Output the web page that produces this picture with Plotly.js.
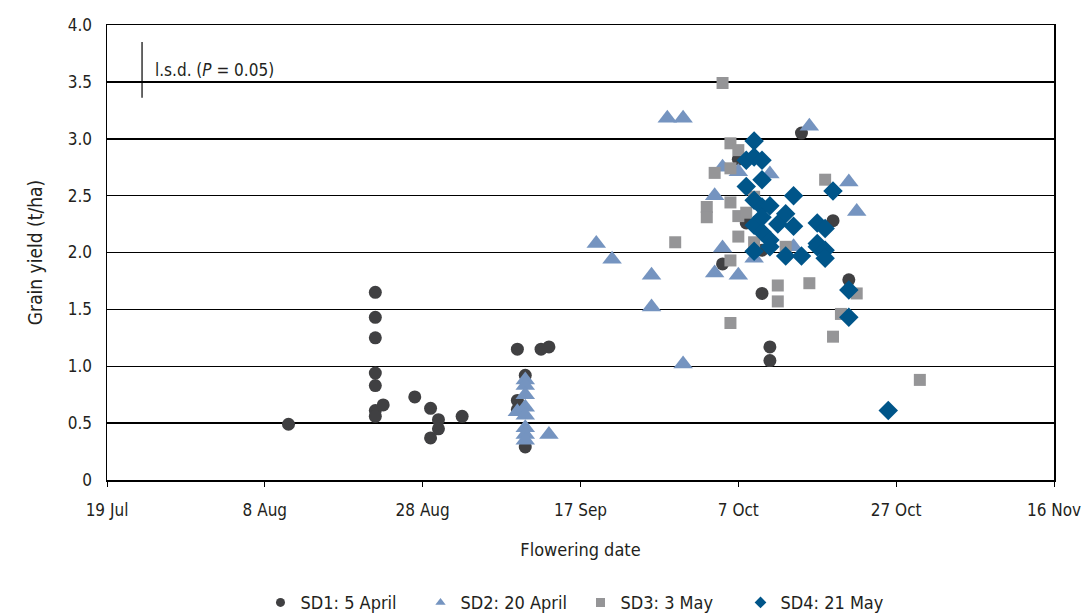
<!DOCTYPE html>
<html>
<head>
<meta charset="utf-8">
<script src="https://cdn.plot.ly/plotly-3.0.1.min.js"></script>
<style>
  html, body { margin: 0; padding: 0; background: #fff; }
  #chart { width: 1082px; height: 615px; }
</style>
</head>
<body>
<div id="chart"></div>
<script>
// Grain yield (t/ha) against flowering date for four sowing dates (SD1–SD4)

const sd1Dates = [
  '2015-08-11',
  '2015-08-22', '2015-08-22', '2015-08-22', '2015-08-22', '2015-08-22', '2015-08-22', '2015-08-22',
  '2015-08-23', '2015-08-27', '2015-08-29', '2015-08-29', '2015-08-30', '2015-08-30', '2015-09-02',
  '2015-09-09', '2015-09-09', '2015-09-09', '2015-09-10', '2015-09-10', '2015-09-12', '2015-09-13',
  '2015-10-05', '2015-10-07', '2015-10-08', '2015-10-10', '2015-10-10', '2015-10-11', '2015-10-11',
  '2015-10-15', '2015-10-19', '2015-10-21'
];
const sd1Yield = [
  0.49,
  1.65, 1.43, 1.25, 0.94, 0.83, 0.61, 0.56,
  0.66, 0.73, 0.63, 0.37, 0.53, 0.45, 0.56,
  1.15, 0.70, 0.62, 0.92, 0.29, 1.15, 1.17,
  1.90, 2.82, 2.26, 2.02, 1.64, 1.17, 1.05,
  3.05, 2.28, 1.76
];

const sd2Dates = [
  '2015-09-09',
  '2015-09-10', '2015-09-10', '2015-09-10', '2015-09-10', '2015-09-10', '2015-09-10', '2015-09-10', '2015-09-10',
  '2015-09-13', '2015-09-19', '2015-09-21', '2015-09-26', '2015-09-26', '2015-09-28', '2015-09-30', '2015-09-30',
  '2015-10-04', '2015-10-04', '2015-10-05', '2015-10-05', '2015-10-07', '2015-10-07', '2015-10-09',
  '2015-10-11', '2015-10-14', '2015-10-16', '2015-10-21', '2015-10-22'
];
const sd2Yield = [
  0.60,
  0.88, 0.83, 0.75, 0.64, 0.57, 0.46, 0.40, 0.35,
  0.40, 2.08, 1.94, 1.80, 1.52, 3.18, 3.18, 1.02,
  2.50, 1.82, 2.75, 2.04, 2.71, 1.80, 1.95,
  2.69, 2.05, 3.11, 2.62, 2.36
];

const sd3Dates = [
  '2015-09-29', '2015-10-03', '2015-10-03', '2015-10-04', '2015-10-05',
  '2015-10-06', '2015-10-06', '2015-10-06', '2015-10-06', '2015-10-06',
  '2015-10-07', '2015-10-07', '2015-10-07', '2015-10-08', '2015-10-09', '2015-10-09',
  '2015-10-12', '2015-10-12', '2015-10-13', '2015-10-16', '2015-10-18', '2015-10-19',
  '2015-10-20', '2015-10-22', '2015-10-30'
];
const sd3Yield = [
  2.09, 2.40, 2.31, 2.70, 3.49,
  2.96, 2.74, 2.44, 1.93, 1.38,
  2.90, 2.32, 2.14, 2.35, 2.49, 2.09,
  1.71, 1.57, 2.05, 1.73, 2.64, 1.26,
  1.46, 1.64, 0.88
];

const sd4Dates = [
  '2015-10-08', '2015-10-08',
  '2015-10-09', '2015-10-09', '2015-10-09', '2015-10-09', '2015-10-09',
  '2015-10-10', '2015-10-10', '2015-10-10', '2015-10-10', '2015-10-10',
  '2015-10-11', '2015-10-11', '2015-10-11', '2015-10-12', '2015-10-13', '2015-10-13',
  '2015-10-14', '2015-10-14', '2015-10-15', '2015-10-17', '2015-10-17', '2015-10-17',
  '2015-10-18', '2015-10-18', '2015-10-18', '2015-10-19', '2015-10-21', '2015-10-21', '2015-10-26'
];
const sd4Yield = [
  2.81, 2.58,
  2.98, 2.84, 2.46, 2.24, 2.01,
  2.81, 2.64, 2.40, 2.31, 2.18,
  2.41, 2.11, 2.05, 2.25, 2.34, 1.97,
  2.50, 2.23, 1.97, 2.26, 2.08, 2.05,
  2.21, 2.02, 1.95, 2.54, 1.67, 1.43, 0.61
];

const seriesNames = ['SD1: 5 April', 'SD2: 20 April', 'SD3: 3 May', 'SD4: 21 May'];

const yTickVals = [0, 0.5, 1, 1.5, 2, 2.5, 3, 3.5, 4];
const yTickText = ['0', '0.5', '1.0', '1.5', '2.0', '2.5', '3.0', '3.5', '4.0'];

// least significant difference bar (t/ha)
const LSD = 0.49;
const LSD_TOP = 3.85;

const FONT = '"DejaVu Sans Condensed", "DejaVu Sans", sans-serif';

const styles = [
  { symbol: 'circle', color: '#404042', size: 13 },
  { symbol: 'triangle-up', color: '#7594c0', size: 17 },
  { symbol: 'square', color: '#959597', size: 12 },
  { symbol: 'diamond', color: '#005589', size: 15 }
];

const xs = [sd1Dates, sd2Dates, sd3Dates, sd4Dates];
const ys = [sd1Yield, sd2Yield, sd3Yield, sd4Yield];

const traces = [];
xs.forEach((x, i) => {
  traces.push({
    type: 'scatter', mode: 'markers',
    x: x, y: ys[i], name: seriesNames[i],
    showlegend: false, cliponaxis: false,
    marker: { symbol: styles[i].symbol, color: styles[i].color, size: styles[i].size, line: { width: 0 } }
  });
});
// compact legend keys
seriesNames.forEach((n, i) => {
  traces.push({
    type: 'scatter', mode: 'markers',
    x: [null], y: [null], name: n, showlegend: true,
    marker: { symbol: styles[i].symbol, color: styles[i].color, size: 9, line: { width: 0 } }
  });
});

const layout = {
  width: 1082, height: 615,
  margin: { l: 107, r: 28, t: 25, b: 135, autoexpand: false },
  paper_bgcolor: '#ffffff', plot_bgcolor: '#ffffff',
  font: { family: FONT, size: 17, color: '#231f20' },
  xaxis: {
    type: 'date',
    range: ['2015-07-19', '2015-11-16'],
    tick0: '2015-07-19', dtick: 20 * 86400000,
    tickformat: '%-d %b',
    showgrid: false, zeroline: false,
    showline: true, linecolor: '#000', linewidth: 1.5, mirror: true,
    ticks: 'outside', ticklen: 5, tickcolor: '#000', tickwidth: 1,
    ticklabelstandoff: 9,
    tickfont: { family: FONT, size: 17, color: '#231f20' },
    title: { text: 'Flowering date', font: { family: FONT, size: 18, color: '#231f20' }, standoff: 24 }
  },
  yaxis: {
    range: [0, 4],
    tickvals: yTickVals, ticktext: yTickText,
    showgrid: true, gridcolor: '#000', gridwidth: 1.5,
    zeroline: false,
    showline: true, linecolor: '#000', linewidth: 1.5, mirror: true,
    ticks: '', ticklabelstandoff: 10,
    tickfont: { family: FONT, size: 17, color: '#231f20' },
    title: { text: 'Grain yield (t/ha)', font: { family: FONT, size: 19, color: '#231f20' }, standoff: 20 }
  },
  legend: {
    orientation: 'h', x: 0.5, xanchor: 'center', y: -0.229, yanchor: 'top',
    font: { family: FONT, size: 18, color: '#231f20' },
    itemwidth: 30, traceorder: 'normal',
    entrywidth: 115, entrywidthmode: 'pixels'
  },
  shapes: [{
    type: 'line', xref: 'paper', yref: 'y',
    x0: 0.037, x1: 0.037, y0: LSD_TOP - LSD, y1: LSD_TOP,
    line: { color: '#000', width: 1.2 }
  }],
  annotations: [{
    xref: 'paper', yref: 'y', x: 0.049, y: LSD_TOP - LSD / 2,
    xanchor: 'left', yanchor: 'middle', showarrow: false,
    text: 'l.s.d. (<i>P</i> = 0.05)',
    font: { family: FONT, size: 17, color: '#231f20' }
  }]
};

Plotly.newPlot('chart', traces, layout, { displayModeBar: false, staticPlot: true });
</script>
</body>
</html>
